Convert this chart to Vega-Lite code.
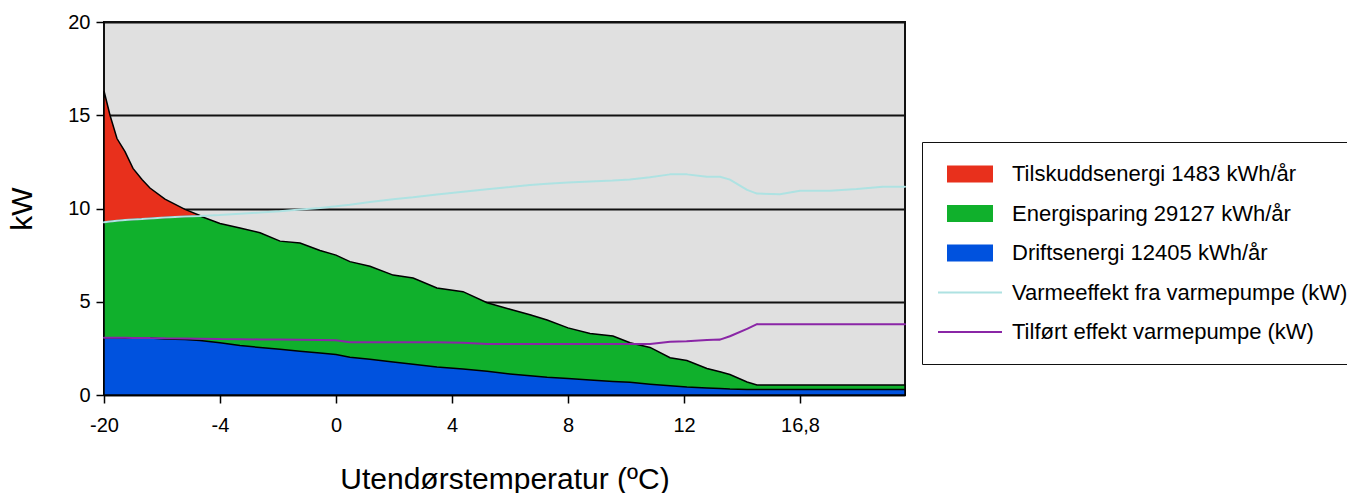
{
  "$schema": "https://vega.github.io/schema/vega-lite/v6.json",
  "width": 801,
  "height": 373,
  "autosize": {"type": "none"},
  "padding": {"left": 104, "top": 22, "right": 442, "bottom": 98},
  "background": "white",
  "config": {
    "font": "Liberation Sans",
    "view": {"fill": "#e0e0e0", "stroke": "#111111", "strokeWidth": 2},
    "axis": {
      "labelColor": "black",
      "titleColor": "black",
      "tickColor": "black",
      "domain": false,
      "titleFontWeight": "normal",
      "labelFontSize": 20,
      "titleFontSize": 30,
      "tickSize": 8,
      "tickWidth": 1.5,
      "labelFlush": false
    }
  },
  "data": {
    "values": [
      {"t": -20, "red": 16.3, "green": 9.26, "blue": 3.07, "hp": 9.26, "el": 3.07},
      {"t": -19.17, "red": 15.0, "green": 9.3, "blue": 3.07, "hp": 9.3, "el": 3.07},
      {"t": -18.21, "red": 13.75, "green": 9.34, "blue": 3.07, "hp": 9.34, "el": 3.07},
      {"t": -17.1, "red": 13.05, "green": 9.38, "blue": 3.06, "hp": 9.38, "el": 3.07},
      {"t": -16.0, "red": 12.15, "green": 9.41, "blue": 3.06, "hp": 9.41, "el": 3.06},
      {"t": -14.76, "red": 11.55, "green": 9.44, "blue": 3.05, "hp": 9.44, "el": 3.06},
      {"t": -13.66, "red": 11.1, "green": 9.47, "blue": 3.05, "hp": 9.47, "el": 3.05},
      {"t": -11.59, "red": 10.5, "green": 9.52, "blue": 3.0, "hp": 9.52, "el": 3.04},
      {"t": -8.83, "red": 9.95, "green": 9.57, "blue": 2.97, "hp": 9.57, "el": 3.03},
      {"t": -6.76, "red": 9.62, "green": 9.6, "blue": 2.92, "hp": 9.6, "el": 3.02},
      {"t": -4, "green": 9.2, "blue": 2.8, "hp": 9.65, "el": 3.0},
      {"t": -3.31, "green": 8.95, "blue": 2.65, "hp": 9.72, "el": 2.99},
      {"t": -2.62, "green": 8.7, "blue": 2.55, "hp": 9.78, "el": 2.98},
      {"t": -1.93, "green": 8.25, "blue": 2.45, "hp": 9.85, "el": 2.97},
      {"t": -1.24, "green": 8.15, "blue": 2.35, "hp": 9.95, "el": 2.96},
      {"t": -0.55, "green": 7.75, "blue": 2.25, "hp": 10.03, "el": 2.95},
      {"t": 0, "green": 7.5, "blue": 2.17, "hp": 10.12, "el": 2.93},
      {"t": 0.48, "green": 7.15, "blue": 2.03, "hp": 10.2, "el": 2.83},
      {"t": 1.17, "green": 6.9, "blue": 1.92, "hp": 10.35, "el": 2.83},
      {"t": 1.97, "green": 6.43, "blue": 1.77, "hp": 10.5, "el": 2.83},
      {"t": 2.66, "green": 6.27, "blue": 1.65, "hp": 10.6, "el": 2.83},
      {"t": 3.48, "green": 5.74, "blue": 1.5, "hp": 10.75, "el": 2.83},
      {"t": 4.38, "green": 5.54, "blue": 1.4, "hp": 10.9, "el": 2.8},
      {"t": 5.21, "green": 4.95, "blue": 1.27, "hp": 11.03, "el": 2.73},
      {"t": 6.0, "green": 4.6, "blue": 1.13, "hp": 11.15, "el": 2.73},
      {"t": 6.69, "green": 4.3, "blue": 1.03, "hp": 11.26, "el": 2.73},
      {"t": 7.28, "green": 4.02, "blue": 0.95, "hp": 11.33, "el": 2.73},
      {"t": 8.0, "green": 3.6, "blue": 0.88, "hp": 11.4, "el": 2.73},
      {"t": 8.76, "green": 3.3, "blue": 0.8, "hp": 11.45, "el": 2.73},
      {"t": 9.55, "green": 3.16, "blue": 0.73, "hp": 11.5, "el": 2.73},
      {"t": 10.14, "green": 2.8, "blue": 0.68, "hp": 11.55, "el": 2.73},
      {"t": 10.83, "green": 2.55, "blue": 0.58, "hp": 11.68, "el": 2.73},
      {"t": 11.52, "green": 2.0, "blue": 0.5, "hp": 11.83, "el": 2.86},
      {"t": 12.12, "green": 1.85, "blue": 0.43, "hp": 11.83, "el": 2.88},
      {"t": 12.95, "green": 1.42, "blue": 0.38, "hp": 11.7, "el": 2.95},
      {"t": 13.49, "green": 1.25, "blue": 0.35, "hp": 11.7, "el": 2.97},
      {"t": 13.9, "green": 1.1, "blue": 0.32, "hp": 11.55, "el": 3.15},
      {"t": 14.61, "green": 0.7, "blue": 0.3, "hp": 11.0, "el": 3.55},
      {"t": 15.02, "green": 0.54, "blue": 0.3, "hp": 10.8, "el": 3.8},
      {"t": 15.97, "green": 0.54, "blue": 0.3, "hp": 10.76, "el": 3.8},
      {"t": 16.8, "green": 0.54, "blue": 0.3, "hp": 10.95, "el": 3.8},
      {"t": 18.04, "green": 0.54, "blue": 0.3, "hp": 10.95, "el": 3.8},
      {"t": 19.16, "green": 0.54, "blue": 0.3, "hp": 11.04, "el": 3.8},
      {"t": 20.23, "green": 0.54, "blue": 0.3, "hp": 11.17, "el": 3.8},
      {"t": 21.15, "green": 0.54, "blue": 0.3, "hp": 11.17, "el": 3.8}
    ]
  },
  "encoding": {
    "x": {
      "field": "t",
      "type": "quantitative",
      "scale": {
        "domain": [-20, -4, 0, 4, 8, 12, 16.8, 21.15],
        "range": [0, 116, 232, 348, 464, 580, 696, 801],
        "nice": false,
        "zero": false
      },
      "axis": {
        "values": [-20, -4, 0, 4, 8, 12, 16.8],
        "labelExpr": "datum.value == 16.8 ? '16,8' : '' + datum.value",
        "grid": false,
        "labelPadding": 12,
        "titlePadding": 29,
        "title": "Utendørstemperatur (ºC)"
      }
    }
  },
  "layer": [
    {
      "mark": {"type": "area", "stroke": "black", "strokeWidth": 1.5, "invalid": "filter"},
      "encoding": {
        "y": {
          "field": "red",
          "type": "quantitative",
          "scale": {"domain": [0, 20], "nice": false},
          "axis": {
            "values": [0, 5, 10, 15, 20],
            "grid": true,
            "gridColor": "#111111",
            "gridWidth": 2,
            "gridOpacity": 1,
            "labelPadding": 6,
            "titlePadding": 30,
            "title": "kW"
          }
        },
        "color": {
          "datum": "Tilskuddsenergi 1483 kWh/år",
          "type": "nominal",
          "scale": {
            "domain": ["Tilskuddsenergi 1483 kWh/år", "Energisparing 29127 kWh/år", "Driftsenergi 12405 kWh/år", "Varmeeffekt fra varmepumpe (kW)", "Tilført effekt varmepumpe (kW)"],
            "range": ["#e8301c", "#10b02c", "#0052de", "#aee2e2", "#8a26a6"]
          },
          "legend": {
            "orient": "none",
            "legendX": 818,
            "legendY": 120,
            "title": null,
            "padding": 15,
            "symbolSize": 4096,
            "symbolStrokeWidth": 2,
            "symbolType": {"expr": "indexof(datum.value, '(kW)') >= 0 ? 'stroke' : 'M-0.6875,-0.234H0.6875V0.234H-0.6875Z'"},
            "symbolStrokeColor": {"expr": "indexof(datum.value, '(kW)') >= 0 ? scale('color', datum.value) : 'black'"},
            "symbolOpacity": 1,
            "labelOffset": 9,
            "labelFontSize": 22,
            "labelLimit": 600,
            "labelColor": "black",
            "strokeColor": "#111111",
            "fillColor": "white",
            "clipHeight": 34,
            "rowPadding": 5.5
          }
        }
      }
    },
    {
      "mark": {"type": "area", "stroke": "black", "strokeWidth": 1.5, "invalid": "filter"},
      "encoding": {
        "y": {"field": "green", "type": "quantitative"},
        "color": {
          "datum": "Energisparing 29127 kWh/år",
          "type": "nominal",
          "scale": {
            "domain": ["Tilskuddsenergi 1483 kWh/år", "Energisparing 29127 kWh/år", "Driftsenergi 12405 kWh/år", "Varmeeffekt fra varmepumpe (kW)", "Tilført effekt varmepumpe (kW)"],
            "range": ["#e8301c", "#10b02c", "#0052de", "#aee2e2", "#8a26a6"]
          }
        }
      }
    },
    {
      "mark": {"type": "area", "stroke": "black", "strokeWidth": 1.5, "invalid": "filter"},
      "encoding": {
        "y": {"field": "blue", "type": "quantitative"},
        "color": {
          "datum": "Driftsenergi 12405 kWh/år",
          "type": "nominal",
          "scale": {
            "domain": ["Tilskuddsenergi 1483 kWh/år", "Energisparing 29127 kWh/år", "Driftsenergi 12405 kWh/år", "Varmeeffekt fra varmepumpe (kW)", "Tilført effekt varmepumpe (kW)"],
            "range": ["#e8301c", "#10b02c", "#0052de", "#aee2e2", "#8a26a6"]
          }
        }
      }
    },
    {
      "mark": {"type": "trail", "size": 2, "filled": true, "invalid": "filter"},
      "encoding": {
        "y": {"field": "hp", "type": "quantitative"},
        "color": {
          "datum": "Varmeeffekt fra varmepumpe (kW)",
          "type": "nominal",
          "scale": {
            "domain": ["Tilskuddsenergi 1483 kWh/år", "Energisparing 29127 kWh/år", "Driftsenergi 12405 kWh/år", "Varmeeffekt fra varmepumpe (kW)", "Tilført effekt varmepumpe (kW)"],
            "range": ["#e8301c", "#10b02c", "#0052de", "#aee2e2", "#8a26a6"]
          }
        }
      }
    },
    {
      "mark": {"type": "trail", "size": 2, "filled": true, "invalid": "filter"},
      "encoding": {
        "y": {"field": "el", "type": "quantitative"},
        "color": {
          "datum": "Tilført effekt varmepumpe (kW)",
          "type": "nominal",
          "scale": {
            "domain": ["Tilskuddsenergi 1483 kWh/år", "Energisparing 29127 kWh/år", "Driftsenergi 12405 kWh/år", "Varmeeffekt fra varmepumpe (kW)", "Tilført effekt varmepumpe (kW)"],
            "range": ["#e8301c", "#10b02c", "#0052de", "#aee2e2", "#8a26a6"]
          }
        }
      }
    }
  ]
}
